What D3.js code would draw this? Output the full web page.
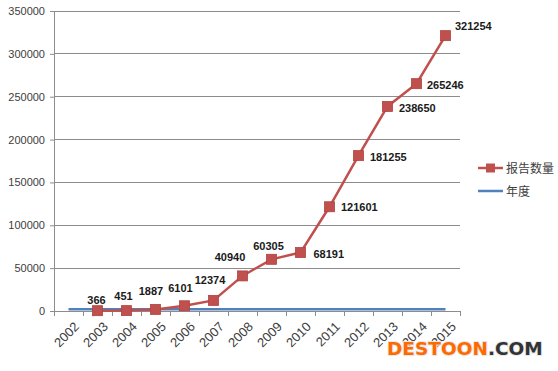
<!DOCTYPE html>
<html>
<head>
<meta charset="utf-8">
<script src="https://cdn.jsdelivr.net/npm/d3@7"></script>
<style>
  body { margin: 0; background: #fff; }
  svg { display: block; }
</style>
</head>
<body>
<div id="chart"></div>
<script>
const years = ["2002","2003","2004","2005","2006","2007","2008","2009","2010","2011","2012","2013","2014","2015"];
// 报告数量 starts in 2003
const reportYears = ["2003","2004","2005","2006","2007","2008","2009","2010","2011","2012","2013","2014","2015"];
const reportCounts = [366, 451, 1887, 6101, 12374, 40940, 60305, 68191, 121601, 181255, 238650, 265246, 321254];
// 年度 series: the years themselves plotted as values
const yearValues = [2002,2003,2004,2005,2006,2007,2008,2009,2010,2011,2012,2013,2014,2015];
const yTicks = [0, 50000, 100000, 150000, 200000, 250000, 300000, 350000];

// label placement per point (style, not data)
const labelPlace = [
  { pos: "above", dx: -1, dy: -7 }, { pos: "above", dx: -3, dy: -11 },
  { pos: "above", dx: -4.5, dy: -14 }, { pos: "above", dx: -4, dy: -14 },
  { pos: "above", dx: -3.5, dy: -16 }, { pos: "above", dx: -12.5, dy: -15 },
  { pos: "above", dx: -3, dy: -9 }, { pos: "right", dx: 13, dy: 5.5 },
  { pos: "right", dx: 11.5, dy: 4 }, { pos: "right", dx: 11.5, dy: 5 },
  { pos: "right", dx: 11.5, dy: 5.5 }, { pos: "right", dx: 10.5, dy: 5.5 },
  { pos: "right", dx: 9.5, dy: -6 }
];

const W = 558, H = 371;
const margin = { top: 11, left: 54 };
const plotW = 406, plotH = 300;

const red = "#C0504D", blue = "#4F81BD", grid = "#8c8c8c", textCol = "#404040";

const svg = d3.select("#chart").append("svg")
  .attr("width", W).attr("height", H);

const g = svg.append("g")
  .attr("transform", `translate(${margin.left},${margin.top})`);

const x = d3.scaleBand().domain(years).range([0, plotW]);
const y = d3.scaleLinear().domain([0, 350000]).range([plotH, 0]);
const cx = d => x(d) + x.bandwidth() / 2;

// gridlines
g.selectAll(".grid")
  .data(yTicks.slice(1))
  .join("line")
  .attr("x1", 0).attr("x2", plotW)
  .attr("y1", d => y(d)).attr("y2", d => y(d))
  .attr("stroke", grid).attr("stroke-width", 1)
  .attr("shape-rendering", "crispEdges");

// y axis
const yAxis = g.append("g")
  .call(d3.axisLeft(y).tickValues(yTicks).tickSize(4).tickPadding(5).tickFormat(d3.format("d")));
yAxis.select(".domain").attr("stroke", grid);
yAxis.selectAll(".tick line").attr("stroke", grid);
yAxis.selectAll("text")
  .attr("fill", textCol)
  .style("font-family", "'Liberation Sans', Arial, sans-serif")
  .style("font-size", "11px");

// x axis: ticks at band boundaries
const xAxis = g.append("g").attr("transform", `translate(0,${plotH})`);
xAxis.append("line")
  .attr("x1", 0).attr("x2", plotW).attr("y1", 0).attr("y2", 0)
  .attr("stroke", grid).attr("shape-rendering", "crispEdges");
xAxis.selectAll(".xt")
  .data(years.concat(["end"]))
  .join("line")
  .attr("x1", (d, i) => i * x.step()).attr("x2", (d, i) => i * x.step())
  .attr("y1", 0).attr("y2", 5)
  .attr("stroke", grid).attr("shape-rendering", "crispEdges");
xAxis.selectAll(".xl")
  .data(years)
  .join("text")
  .attr("transform", d => `translate(${cx(d) + 5},${10}) rotate(-45)`)
  .attr("text-anchor", "end")
  .attr("dy", "0.7em")
  .attr("fill", textCol)
  .style("font-family", "'Liberation Sans', Arial, sans-serif")
  .style("font-size", "13px")
  .text(d => d);

// 年度 line
const line = d3.line().x(d => cx(d[0])).y(d => y(d[1]));
g.append("path")
  .datum(years.map((d, i) => [d, yearValues[i]]))
  .attr("d", line)
  .attr("fill", "none")
  .attr("stroke", blue)
  .attr("stroke-width", 2.5);

// 报告数量 line
const rep = reportYears.map((d, i) => [d, reportCounts[i]]);
g.append("path")
  .datum(rep)
  .attr("d", line)
  .attr("fill", "none")
  .attr("stroke", red)
  .attr("stroke-width", 2.5);

g.selectAll(".mk")
  .data(rep)
  .join("rect")
  .attr("x", d => cx(d[0]) - 5)
  .attr("y", d => y(d[1]) - 5)
  .attr("width", 10).attr("height", 10)
  .attr("fill", red)
  .attr("stroke", "#b0423f").attr("stroke-width", 0.8);

g.selectAll(".lbl")
  .data(rep)
  .join("text")
  .attr("x", (d, i) => cx(d[0]) + labelPlace[i].dx)
  .attr("y", (d, i) => y(d[1]) + labelPlace[i].dy)
  .attr("text-anchor", (d, i) => labelPlace[i].pos === "above" ? "middle" : "start")
  .attr("fill", "#1a1a1a")
  .style("font-family", "'Liberation Sans', Arial, sans-serif")
  .style("font-size", "11px")
  .style("font-weight", "bold")
  .text(d => d[1]);

// legend
const legend = svg.append("g").attr("transform", "translate(478,168)");
legend.append("line").attr("x1", 0).attr("x2", 25).attr("y1", 0).attr("y2", 0)
  .attr("stroke", red).attr("stroke-width", 2.5);
legend.append("rect").attr("x", 8).attr("y", -4.5).attr("width", 9).attr("height", 9)
  .attr("fill", red);
legend.append("text").attr("x", 28).attr("y", 4.5)
  .attr("fill", textCol)
  .style("font-family", "'Noto Sans CJK SC', sans-serif").style("font-size", "12px")
  .text("报告数量");
legend.append("line").attr("x1", 0).attr("x2", 25).attr("y1", 23).attr("y2", 23)
  .attr("stroke", blue).attr("stroke-width", 2.5);
legend.append("text").attr("x", 28).attr("y", 27.5)
  .attr("fill", textCol)
  .style("font-family", "'Noto Sans CJK SC', sans-serif").style("font-size", "12px")
  .text("年度");

// watermark
const wm = svg.append("text")
  .attr("x", 387).attr("y", 355)
  .style("font-family", "'DejaVu Sans', Verdana, sans-serif")
  .style("font-size", "18.5px")
  .style("font-weight", "bold")
  .style("paint-order", "stroke")
  .attr("stroke", "#e8e8e8").attr("stroke-width", 2);
wm.append("tspan").attr("fill", "#ff6a00").text("DESTOON");
wm.append("tspan").attr("fill", "#333333").text(".COM");
</script>
</body>
</html>
